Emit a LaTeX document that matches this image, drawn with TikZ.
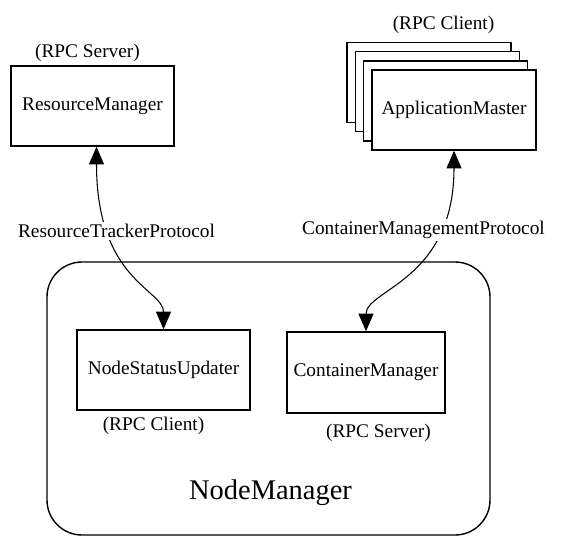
\documentclass[tikz,border=0pt]{standalone}
\usepackage{fontspec}
\setmainfont{Liberation Serif}
\usetikzlibrary{arrows.meta, positioning}

\begin{document}
\begin{tikzpicture}[
    comp/.style={draw, fill=white, line width=0.8pt, minimum width=3.26cm, minimum height=1.6cm, font=\fontsize{11}{13}\selectfont},
    rpc/.style={font=\fontsize{11}{13}\selectfont},
    proto/.style={fill=white, inner sep=1pt, font=\fontsize{11}{13}\selectfont},
    link/.style={{Triangle[length=10pt, width=8.5pt]}-{Triangle[length=10pt, width=8.5pt]}, line width=0.6pt},
]
\useasboundingbox (0,0) rectangle (11.38,-11.08);

% NodeManager
\node[draw, rounded corners=0.7cm, line width=0.8pt, minimum width=8.86cm, minimum height=5.46cm] (nm) at (5.37,-7.97) {};
\node[font=\fontsize{16.2}{19}\selectfont] (nmtext) at (5.41,-9.86) {NodeManager};

\node[comp, minimum width=3.46cm, minimum height=1.6cm] (nsu) at (3.27,-7.4) {NodeStatusUpdater};
\node[comp, minimum width=3.16cm, minimum height=1.62cm] (cm) at (7.32,-7.45) {ContainerManager};
\node[rpc] (nsurpc) at (3.07,-8.52) {(RPC Client)};
\node[rpc] (cmrpc) at (7.57,-8.66) {(RPC Server)};

% ResourceManager
\node[comp] (rm) at (1.85,-2.12) {ResourceManager};
\node[rpc] (rmrpc) at (1.75,-1.06) {(RPC Server)};

% ApplicationMaster stack
\foreach \k in {3,2,1}
    \node[comp, minimum width=3.28cm] (am\k) at ({9.08-0.166*\k},{-2.2+0.183*\k}) {};
\node[comp, minimum width=3.28cm] (am) at (9.08,-2.2) {ApplicationMaster};
\node[rpc] (amrpc) at (8.87,-0.5) {(RPC Client)};

% protocols
\draw[link] ([xshift=0.08cm]rm.south) .. controls +(0,-2.68) and +(0,0.8) .. (nsu.north);
\draw[link] (am.south) .. controls +(0,-2.6) and +(0,0.84) .. (cm.north);
\node[proto] (rtp) at (2.33,-4.62) {ResourceTrackerProtocol};
\node[proto] (cmp) at (8.47,-4.6) {ContainerManagementProtocol};

\end{tikzpicture}
\end{document}
